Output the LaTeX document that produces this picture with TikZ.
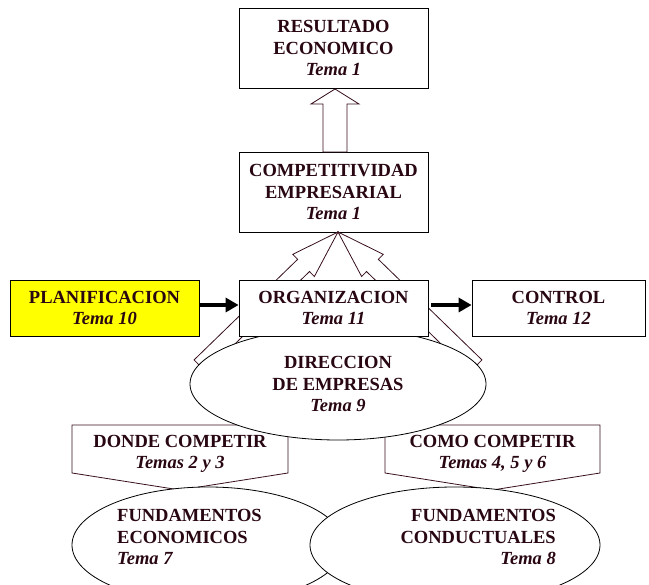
\documentclass[tikz,border=0pt]{standalone}
\usepackage{fontspec}
\setmainfont{Liberation Serif}
\usetikzlibrary{calc,shapes.geometric,arrows.meta}
\definecolor{ink}{RGB}{40,6,18}
\definecolor{edge}{RGB}{55,15,30}
\definecolor{planyellow}{RGB}{255,255,0}
% hollow block arrow: #1 tail, #2 tip, #3 shaft half width, #4 head half width, #5 head length
\newcommand{\blockarrow}[5]{%
  \coordinate (ba-hb) at ($(#2)!#5!(#1)$);
  \filldraw[hollowarrow] ($(#1)!#3!90:(#2)$) -- ($(ba-hb)!#3!90:(#2)$) -- ($(ba-hb)!#4!90:(#2)$)
    -- (#2) -- ($(ba-hb)!#4!-90:(#2)$) -- ($(ba-hb)!#3!-90:(#2)$) -- ($(#1)!#3!-90:(#2)$) -- cycle;}
\begin{document}
\begin{tikzpicture}[x=1pt,y=-1pt,
  lbl/.style={font=\fontsize{18.5}{21.5}\selectfont\bfseries, text=ink, align=center, inner sep=0pt},
  box/.style={lbl, draw=black, line width=0.8pt, fill=white, minimum width=189pt},
  oval/.style={lbl, ellipse, draw=black, line width=0.8pt, fill=white},
  pent/.style={draw=edge, fill=white, line width=0.8pt, line join=miter},
  hollowarrow/.style={draw=edge, fill=white, line width=0.8pt, line join=miter},
  thickarrow/.style={draw=black, line width=4.5pt, -{Triangle[length=13pt,width=14pt]}}]
\useasboundingbox (0,0) rectangle (649,585);
\clip (0,0) rectangle (649,585);

% top boxes
\node[box, minimum height=80pt] (RE) at (333.5,48) {RESULTADO\\ECONOMICO\\\textit{Tema 1}};
\node[box, minimum height=80pt] (CO) at (333.5,192) {COMPETITIVIDAD\\EMPRESARIAL\\\textit{Tema 1}};

% hollow arrows
\coordinate (ltail) at (200,366);
\coordinate (rtail) at (476,366);
\coordinate (ctip) at (338,232);
\blockarrow{ltail}{ctip}{8.5pt}{15.5pt}{48pt}
\blockarrow{rtail}{ctip}{8.5pt}{15.5pt}{48pt}
\coordinate (ubase) at (335,152);
\coordinate (utip) at (335,89);
\blockarrow{ubase}{utip}{12pt}{24pt}{15pt}

% where / how to compete
\draw[pent] (72,425) -- (288,425) -- (288,473) -- (180,490) -- (72,473) -- cycle;
\node[lbl] (DC) at (180,454) {DONDE COMPETIR\\\textit{Temas 2 y 3}};
\draw[pent] (385,425) -- (600,425) -- (600,473) -- (492.5,490) -- (385,473) -- cycle;
\node[lbl] (CC) at (492.5,454) {COMO COMPETIR\\\textit{Temas 4, 5 y 6}};

% direccion
\node[oval, minimum width=296pt, minimum height=112pt] (DI) at (338,384) {DIRECCION\\DE EMPRESAS\\\textit{Tema 9}};

% middle row
\node[box, minimum height=56pt] (OR) at (333.5,308) {ORGANIZACION\\\textit{Tema 11}};
\node[box, minimum height=56pt, fill=planyellow] (PL) at (104.5,308) {PLANIFICACION\\\textit{Tema 10}};
\node[box, minimum height=56pt, minimum width=173pt] (CT) at (558.5,308) {CONTROL\\\textit{Tema 12}};
\draw[thickarrow] ([yshift=3pt]PL.east) -- ([yshift=3pt]OR.west);
\draw[thickarrow, shorten <=3pt] ([yshift=3pt]OR.east) -- ([yshift=3pt]CT.west);

% fundamentos
\node[oval, minimum width=272pt, minimum height=116pt] (FE) at (208,545) {};
\node[lbl, align=left, anchor=west] (FEt) at (117,537) {FUNDAMENTOS\\ECONOMICOS\\\textit{Tema 7}};
\node[oval, minimum width=290pt, minimum height=116pt] (FC) at (455,545) {};
\node[lbl, align=right, anchor=east] (FCt) at (556,537) {FUNDAMENTOS\\CONDUCTUALES\\\textit{Tema 8}};
\end{tikzpicture}
\end{document}
